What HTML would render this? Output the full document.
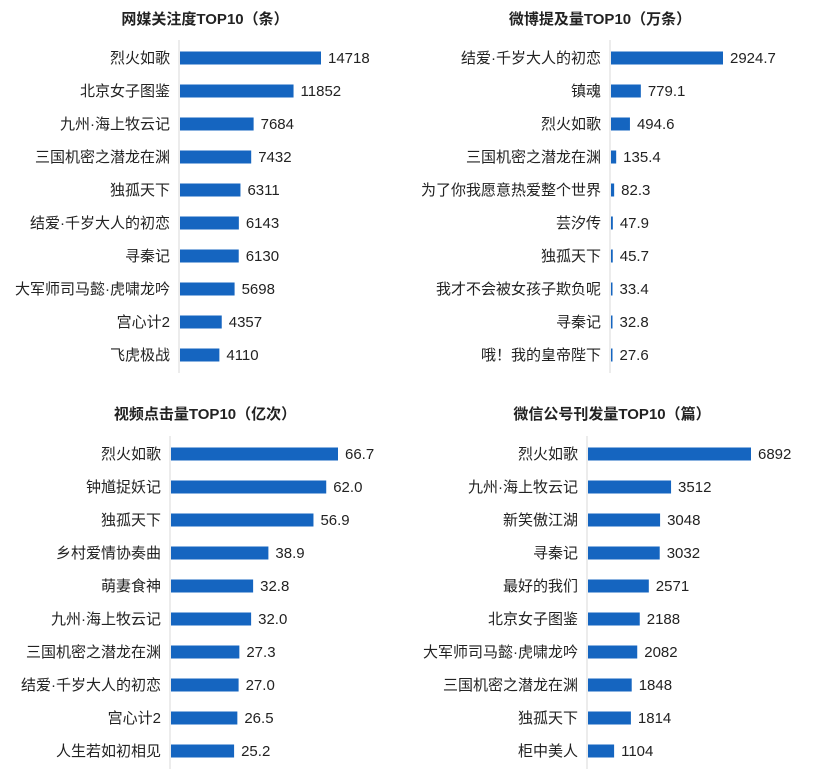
<!DOCTYPE html>
<html><head><meta charset="utf-8">
<style>
body{margin:0;background:#fff;width:823px;height:774px;overflow:hidden}
svg{display:block}
text{font-family:"Liberation Sans","Noto Sans CJK SC",sans-serif;fill:#222}
.t{font-weight:bold;font-size:15px}
.l{font-size:15px}
</style></head>
<body>
<svg id="c" width="823" height="774"></svg>
<script>
const cats1=["烈火如歌","北京女子图鉴","九州·海上牧云记","三国机密之潜龙在渊","独孤天下","结爱·千岁大人的初恋","寻秦记","大军师司马懿·虎啸龙吟","宫心计2","飞虎极战"];
const vals1=[14718,11852,7684,7432,6311,6143,6130,5698,4357,4110];
const labs1=["14718","11852","7684","7432","6311","6143","6130","5698","4357","4110"];
const cats2=["结爱·千岁大人的初恋","镇魂","烈火如歌","三国机密之潜龙在渊","为了你我愿意热爱整个世界","芸汐传","独孤天下","我才不会被女孩子欺负呢","寻秦记","哦！我的皇帝陛下"];
const vals2=[2924.7,779.1,494.6,135.4,82.3,47.9,45.7,33.4,32.8,27.6];
const labs2=["2924.7","779.1","494.6","135.4","82.3","47.9","45.7","33.4","32.8","27.6"];
const cats3=["烈火如歌","钟馗捉妖记","独孤天下","乡村爱情协奏曲","萌妻食神","九州·海上牧云记","三国机密之潜龙在渊","结爱·千岁大人的初恋","宫心计2","人生若如初相见"];
const vals3=[66.7,62.0,56.9,38.9,32.8,32.0,27.3,27.0,26.5,25.2];
const labs3=["66.7","62.0","56.9","38.9","32.8","32.0","27.3","27.0","26.5","25.2"];
const cats4=["烈火如歌","九州·海上牧云记","新笑傲江湖","寻秦记","最好的我们","北京女子图鉴","大军师司马懿·虎啸龙吟","三国机密之潜龙在渊","独孤天下","柜中美人"];
const vals4=[6892,3512,3048,3032,2571,2188,2082,1848,1814,1104];
const labs4=["6892","3512","3048","3032","2571","2188","2082","1848","1814","1104"];
const titles=["网媒关注度TOP10（条）","微博提及量TOP10（万条）","视频点击量TOP10（亿次）","微信公号刊发量TOP10（篇）"];

const NS="http://www.w3.org/2000/svg";
const svg=document.getElementById('c');
function mk(tag,attrs,parent){const e=document.createElementNS(NS,tag);for(const k in attrs)e.setAttribute(k,attrs[k]);(parent||svg).appendChild(e);return e;}

function panel(idx,cats,vals,labs,cfg){
  const g=mk('g',{});
  
  
  const t=mk('text',{x:cfg.tx,y:cfg.ty,'text-anchor':'middle','class':'t'},g);
  t.textContent=titles[idx];
  
  
  const ax=mk('line',{x1:cfg.ax,x2:cfg.ax,y1:cfg.y0-18,y2:cfg.y0+9*33+18,stroke:'#d9d9d9','stroke-width':1},g);
  
  
  const max=Math.max(...vals);
  const xs=v=>v/max*cfg.w;
  const ys=i=>cfg.y0+i*33;
  cats.forEach((c,i)=>{
    const y=ys(i);
    const lt=mk('text',{x:cfg.ax-9,y:y+5,'text-anchor':'end','class':'l'},g);
    lt.textContent=c;
    
    
    const bw=Math.max(xs(vals[i]),1.5);
    const b=mk('rect',{x:cfg.ax+1,y:y-6.5,width:bw,height:13,fill:'#1565c0'},g);
    
    
    const vt=mk('text',{x:cfg.ax+1+bw+7,y:y+5,'class':'l'},g);
    vt.textContent=labs[i];
    
    
  });
}
panel(0,cats1,vals1,labs1,{tx:205,ty:24,ax:179,w:141,y0:58});
panel(1,cats2,vals2,labs2,{tx:600,ty:24,ax:610,w:112,y0:58});
panel(2,cats3,vals3,labs3,{tx:205,ty:419,ax:170,w:167,y0:454});
panel(3,cats4,vals4,labs4,{tx:612,ty:419,ax:587,w:163,y0:454});
</script>
</body></html>
